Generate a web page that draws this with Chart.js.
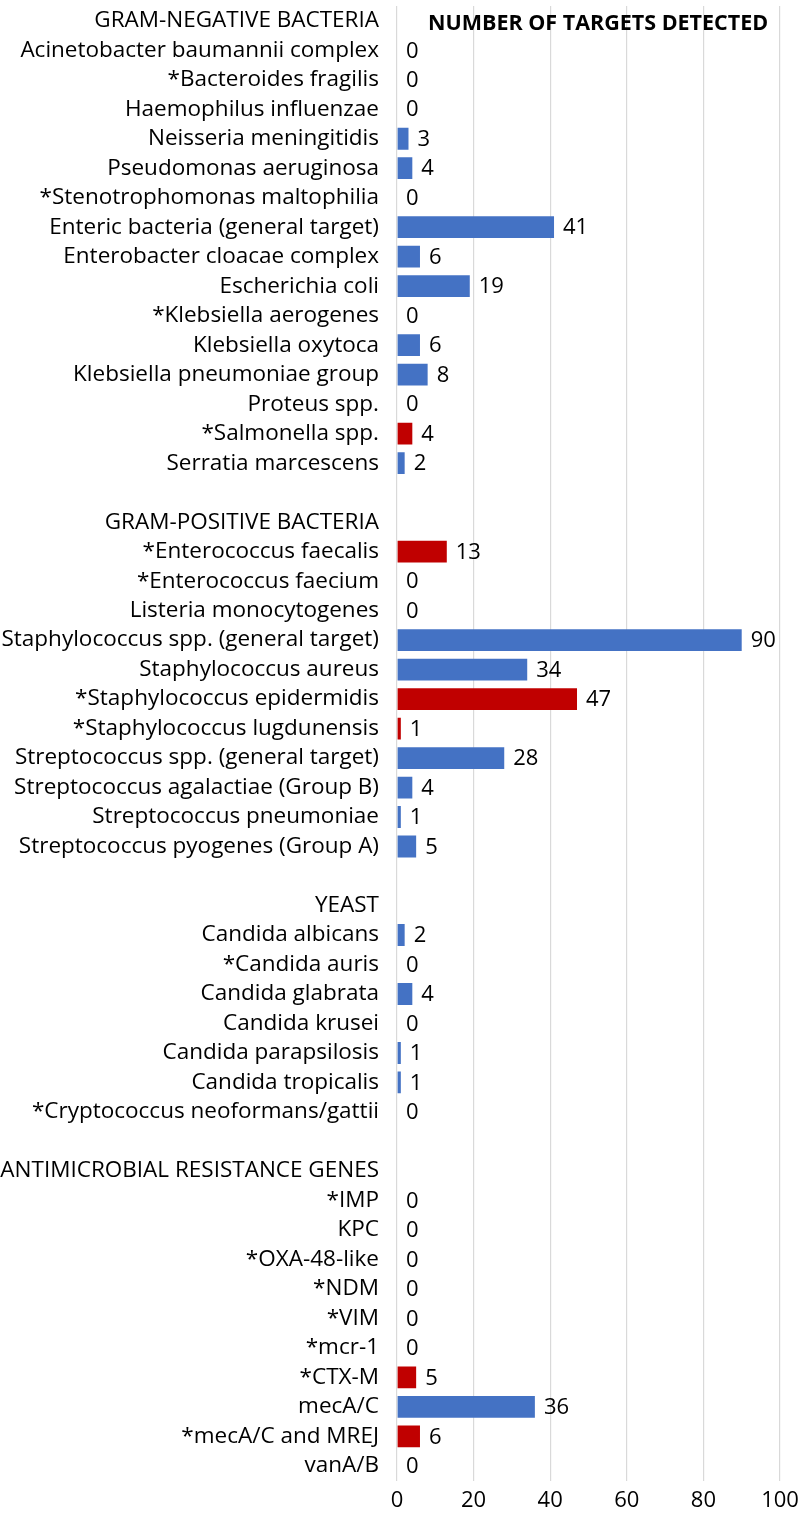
<!DOCTYPE html>
<html>
<head>
<meta charset="utf-8">
<script src="https://cdn.jsdelivr.net/npm/chart.js@4/dist/chart.umd.min.js"></script>
<style>
  html, body { margin: 0; padding: 0; background: #fff; }
  #wrap { width: 800px; height: 1522px; position: relative; }
</style>
</head>
<body>
<div id="wrap"><canvas id="targetsChart"></canvas></div>
<script>
// rows of the chart, top to bottom; null value = section header or spacer row
const gramNegLabels = ['GRAM-NEGATIVE BACTERIA', 'Acinetobacter baumannii complex', '*Bacteroides fragilis',
  'Haemophilus influenzae', 'Neisseria meningitidis', 'Pseudomonas aeruginosa', '*Stenotrophomonas maltophilia',
  'Enteric bacteria (general target)', 'Enterobacter cloacae complex', 'Escherichia coli', '*Klebsiella aerogenes',
  'Klebsiella oxytoca', 'Klebsiella pneumoniae group', 'Proteus spp.', '*Salmonella spp.', 'Serratia marcescens'];
const gramNegValues = [null, 0, 0, 0, 3, 4, 0, 41, 6, 19, 0, 6, 8, 0, 4, 2];

const gramPosLabels = ['GRAM-POSITIVE BACTERIA', '*Enterococcus faecalis', '*Enterococcus faecium',
  'Listeria monocytogenes', 'Staphylococcus spp. (general target)', 'Staphylococcus aureus',
  '*Staphylococcus epidermidis', '*Staphylococcus lugdunensis', 'Streptococcus spp. (general target)',
  'Streptococcus agalactiae (Group B)', 'Streptococcus pneumoniae', 'Streptococcus pyogenes (Group A)'];
const gramPosValues = [null, 13, 0, 0, 90, 34, 47, 1, 28, 4, 1, 5];

const yeastLabels = ['YEAST', 'Candida albicans', '*Candida auris', 'Candida glabrata', 'Candida krusei',
  'Candida parapsilosis', 'Candida tropicalis', '*Cryptococcus neoformans/gattii'];
const yeastValues = [null, 2, 0, 4, 0, 1, 1, 0];

const amrLabels = ['ANTIMICROBIAL RESISTANCE GENES', '*IMP', 'KPC', '*OXA-48-like', '*NDM', '*VIM',
  '*mcr-1', '*CTX-M', 'mecA/C', '*mecA/C and MREJ', 'vanA/B'];
const amrValues = [null, 0, 0, 0, 0, 0, 0, 5, 36, 6, 0];

const xTicks = [0, 20, 40, 60, 80, 100];

const categories = [...gramNegLabels, '', ...gramPosLabels, '', ...yeastLabels, '', ...amrLabels];
const counts = [...gramNegValues, null, ...gramPosValues, null, ...yeastValues, null, ...amrValues];

const blue = '#4472C4';
const red = '#C00000';
const FONT = '"Open Sans", Lato, sans-serif';

// starred targets are drawn red
const barColors = categories.map(c => c.startsWith('*') ? red : blue);

const valueLabels = {
  id: 'valueLabels',
  afterDatasetsDraw(chart) {
    const ctx = chart.ctx;
    const meta = chart.getDatasetMeta(0);
    ctx.save();
    ctx.font = '22px ' + FONT;
    ctx.fillStyle = '#000';
    ctx.textBaseline = 'middle';
    ctx.textAlign = 'left';
    meta.data.forEach((bar, i) => {
      if (counts[i] === null) return;
      ctx.fillText(String(counts[i]), bar.x + 9, bar.y + 1);
    });
    ctx.restore();
  }
};

const headTitle = {
  id: 'headTitle',
  afterDraw(chart) {
    const ctx = chart.ctx;
    const x = chart.scales.x.getPixelForValue(52.5);
    const y = chart.scales.y.getPixelForValue(0);
    ctx.save();
    ctx.font = 'bold 21.5px ' + FONT;
    ctx.fillStyle = '#000';
    ctx.textAlign = 'center';
    ctx.textBaseline = 'middle';
    ctx.fillText('NUMBER OF TARGETS DETECTED', x, y + 3);
    ctx.restore();
  }
};

new Chart(document.getElementById('targetsChart'), {
  type: 'bar',
  data: {
    labels: categories,
    datasets: [{
      data: counts,
      backgroundColor: barColors,
      borderWidth: 0,
      categoryPercentage: 1,
      barPercentage: 0.74
    }]
  },
  options: {
    indexAxis: 'y',
    responsive: true,
    maintainAspectRatio: false,
    animation: false,
    layout: { padding: { top: 6, right: 20, bottom: 1, left: 0 } },
    plugins: {
      legend: { display: false },
      tooltip: { enabled: false }
    },
    scales: {
      x: {
        min: 0,
        max: 100,
        afterBuildTicks(scale) { scale.ticks = xTicks.map(v => ({ value: v })); },
        afterFit(scale) { scale.paddingLeft = 0; scale.paddingRight = 0; },
        grid: { color: '#d9d9d9', lineWidth: 1.2, drawTicks: false },
        border: { display: false },
        ticks: { color: '#000', font: { family: FONT, size: 22 }, padding: 7 }
      },
      y: {
        grid: { display: false },
        border: { display: false },
        afterFit(scale) {
          scale.width = 397;
          scale.paddingTop = 0;
          scale.paddingBottom = 0;
        },
        ticks: {
          autoSkip: false,
          color: '#000',
          padding: 10,
          font: { family: FONT, size: 22.5 }
        }
      }
    }
  },
  plugins: [valueLabels, headTitle]
});
</script>
</body>
</html>
